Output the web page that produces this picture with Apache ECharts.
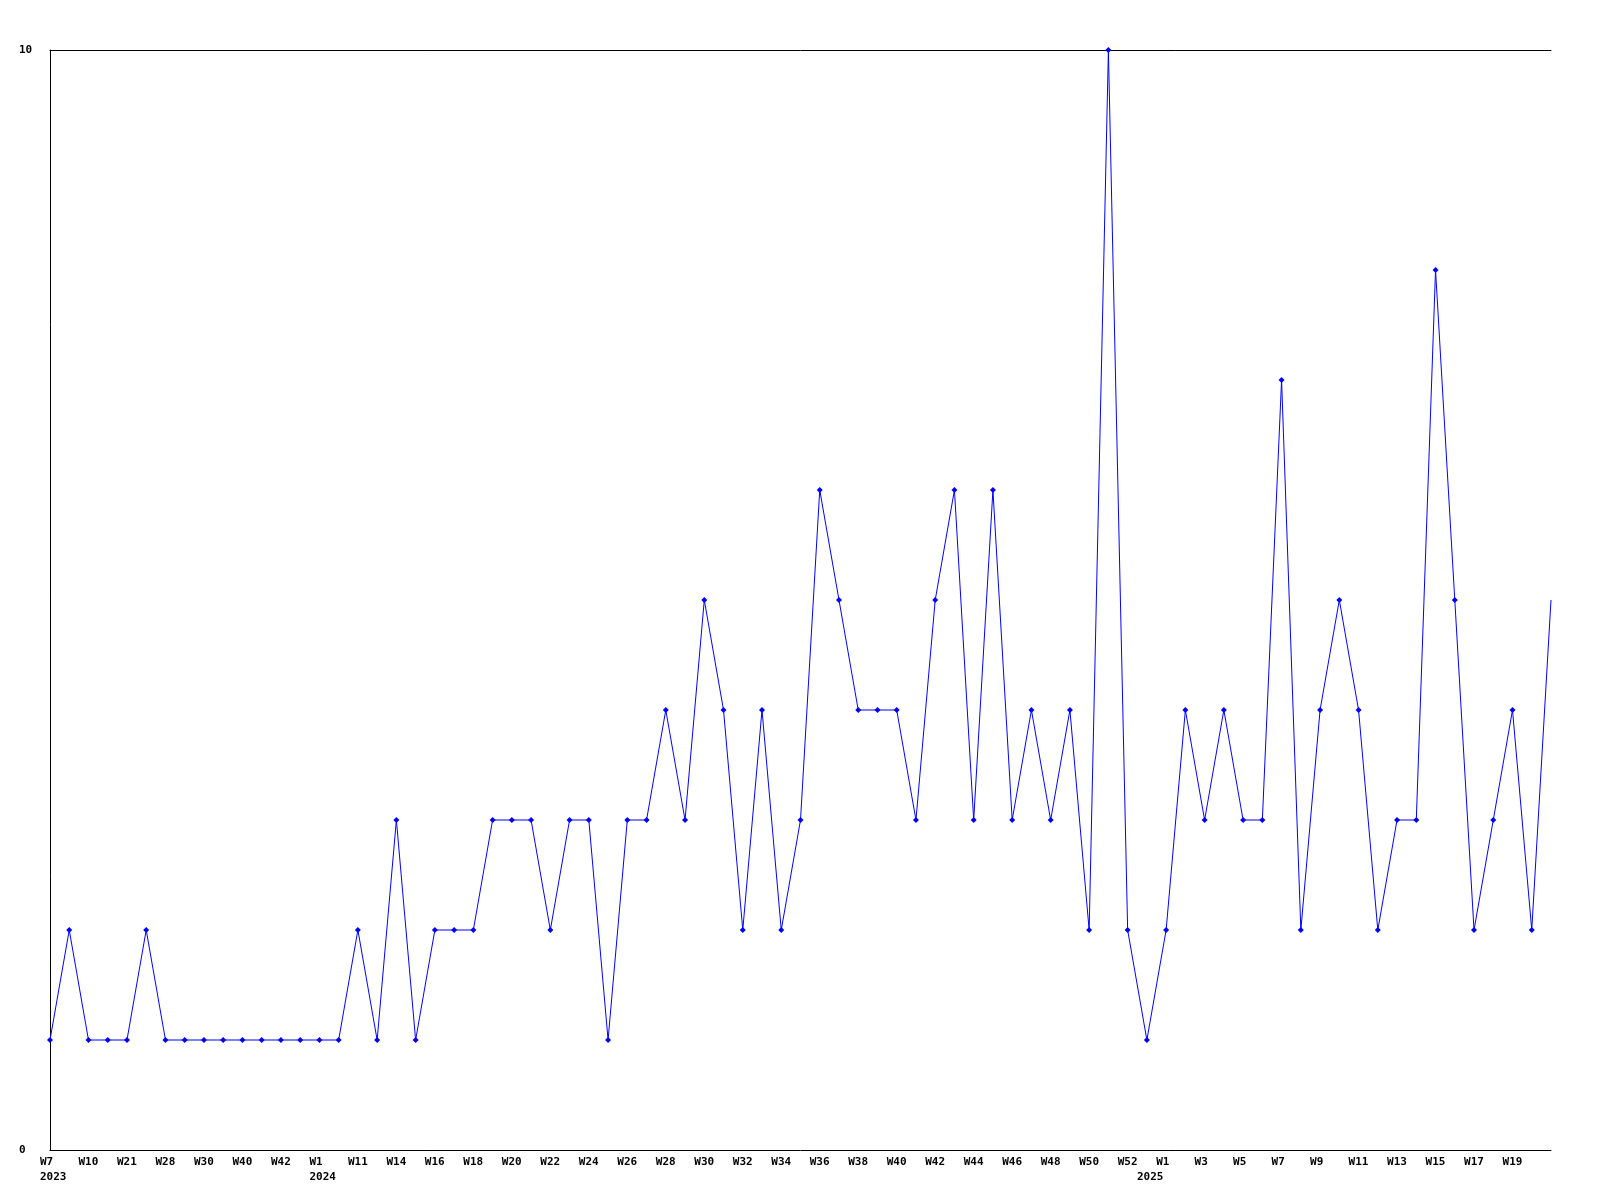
<!DOCTYPE html>
<html>
<head>
<meta charset="utf-8">
<script src="https://cdn.jsdelivr.net/npm/echarts@6/dist/echarts.min.js"></script>
<style>html,body{margin:0;padding:0;background:#fff}#c{width:1600px;height:1200px}</style>
</head>
<body>
<div id="c"></div>
<script>
const weeks = [
  "W7","W8","W10","W15","W21","W25","W28","W29","W30","W35","W40","W41","W42","W48",
  "W1","W5","W11","W12","W14","W15","W16","W17","W18","W19","W20","W21","W22","W23","W24","W25",
  "W26","W27","W28","W29","W30","W31","W32","W33","W34","W35","W36","W37","W38","W39","W40","W41",
  "W42","W43","W44","W45","W46","W47","W48","W49","W50","W51","W52","W0",
  "W1","W2","W3","W4","W5","W6","W7","W8","W9","W10","W11","W12","W13","W14","W15","W16","W17","W18",
  "W19","W20","W21"
];
const years = [
  2023,2023,2023,2023,2023,2023,2023,2023,2023,2023,2023,2023,2023,2023,
  2024,2024,2024,2024,2024,2024,2024,2024,2024,2024,2024,2024,2024,2024,2024,2024,
  2024,2024,2024,2024,2024,2024,2024,2024,2024,2024,2024,2024,2024,2024,2024,2024,
  2024,2024,2024,2024,2024,2024,2024,2024,2024,2024,2024,2025,
  2025,2025,2025,2025,2025,2025,2025,2025,2025,2025,2025,2025,2025,2025,2025,2025,2025,2025,
  2025,2025,2025
];
const counts = [
  1,2,1,1,1,2,1,1,1,1,1,1,1,1,
  1,1,2,1,3,1,2,2,2,3,3,3,2,3,3,1,
  3,3,4,3,5,4,2,4,2,3,6,5,4,4,4,3,
  5,6,3,6,3,4,3,4,2,10,2,1,
  2,4,3,4,3,3,7,2,4,5,4,2,3,3,8,5,2,3,
  4,2,5
];
const yTicks = [0, 10];

const cats = weeks.map((w, i) => w + '|' + years[i]);
const isYearStart = i => i === 0 || years[i - 1] !== years[i];

const chart = echarts.init(document.getElementById('c'), null, {renderer: 'canvas'});
const font = '"DejaVu Sans Mono", monospace';
chart.setOption({
  animation: false,
  backgroundColor: '#ffffff',
  grid: {left: 50, right: 49, top: 50, bottom: 50, containLabel: false},
  xAxis: [{
    type: 'category',
    data: cats,
    boundaryGap: false,
    axisLine: {show: true, lineStyle: {color: '#000', width: 1}},
    axisTick: {show: false},
    splitLine: {show: false},
    axisLabel: {
      interval: function (i) { return (i % 2 === 0 || isYearStart(i)) && i !== cats.length - 1; },
      margin: 5,
      align: 'center',
      formatter: function (v, i) {
        const parts = v.split('|');
        const weekText = (i % 2 === 0) ? parts[0] : ' ';
        return isYearStart(i) ? '{a|' + weekText + '}\n{a|' + parts[1] + '}' : '{a|' + weekText + '}';
      },
      rich: {
        a: {width: 20, align: 'left', fontFamily: font, fontWeight: 'bold', fontSize: 11, color: '#000', lineHeight: 15}
      }
    }
  }, {
    type: 'category',
    position: 'top',
    data: cats,
    boundaryGap: false,
    axisLine: {show: true, lineStyle: {color: '#000', width: 1}},
    axisTick: {show: false},
    axisLabel: {show: false},
    splitLine: {show: false}
  }],
  yAxis: {
    type: 'value',
    min: yTicks[0],
    max: yTicks[1],
    interval: 10,
    axisLine: {show: true, lineStyle: {color: '#000', width: 1}},
    axisTick: {show: false},
    splitLine: {show: false},
    axisLabel: {
      margin: 31,
      align: 'left',
      fontFamily: font,
      fontWeight: 'bold',
      fontSize: 11,
      color: '#000'
    }
  },
  series: [{
    type: 'line',
    data: counts.map((v, i) => i === counts.length - 1 ? {value: v, symbol: 'none'} : v),
    xAxisIndex: 0,
    symbol: 'diamond',
    symbolSize: 6,
    showSymbol: true,
    showAllSymbol: true,
    itemStyle: {color: '#0000ff'},
    lineStyle: {color: '#0000ff', width: 1},
    emphasis: {disabled: true}
  }]
});
</script>
</body>
</html>
